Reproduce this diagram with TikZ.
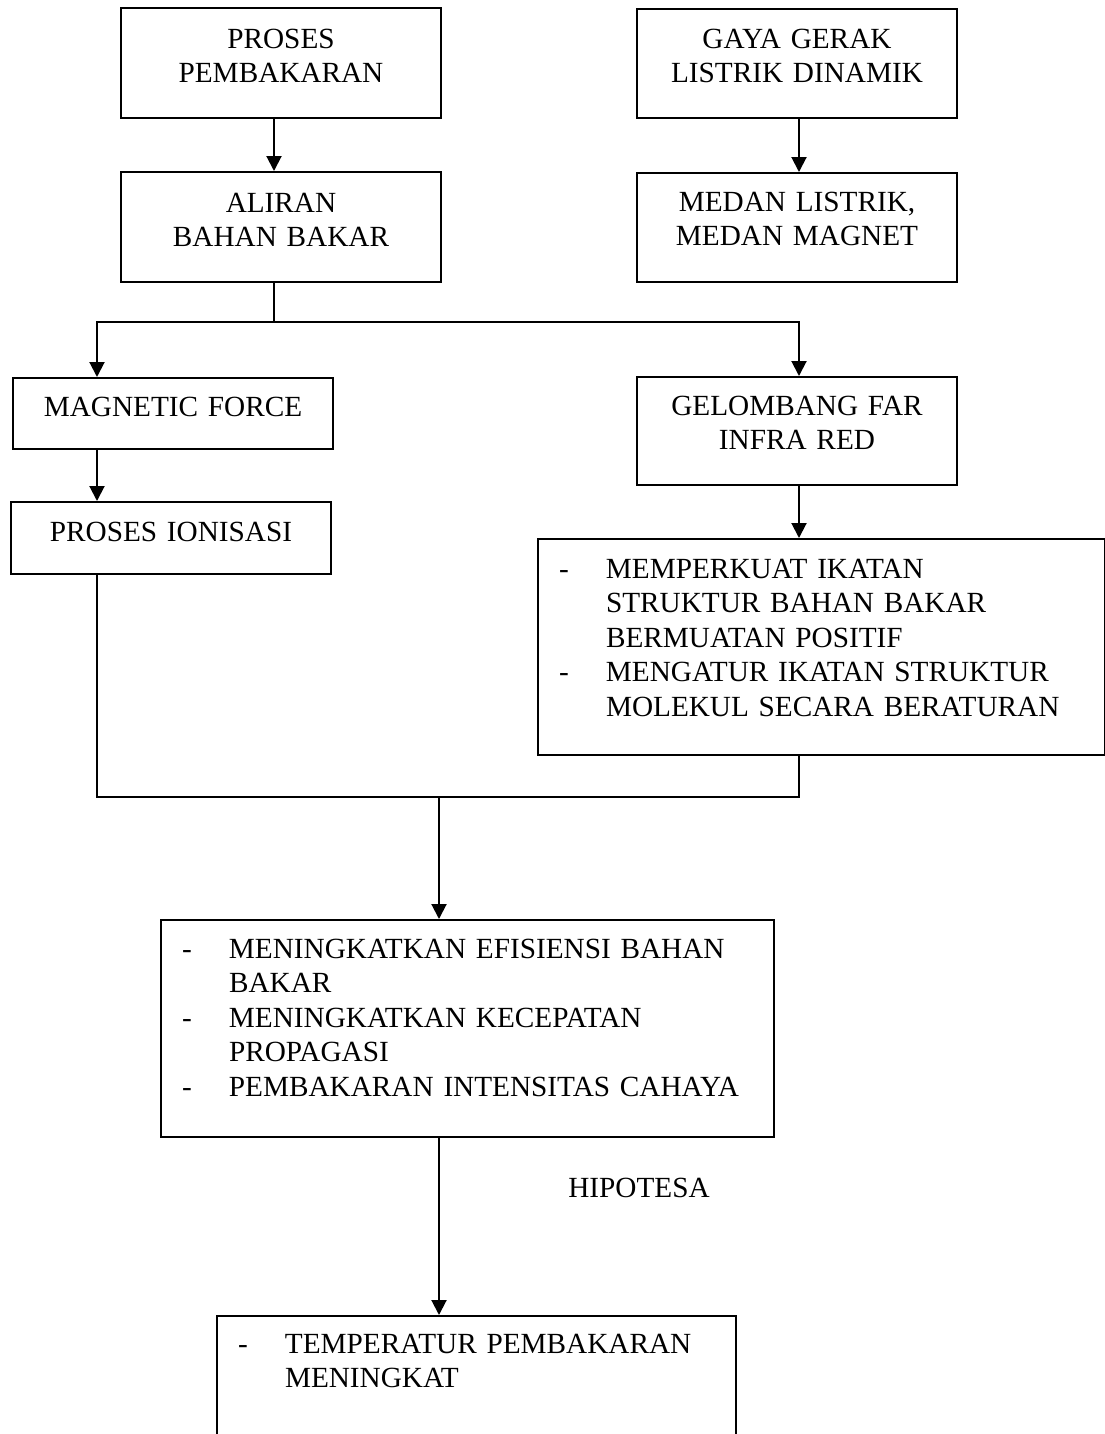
\documentclass[tikz,border=0pt]{standalone}
\usepackage{fontspec}
\setmainfont{Liberation Serif}
\usepackage{tikz}
\usetikzlibrary{arrows.meta}
\newcommand{\boxfont}{\fontsize{11.7}{13.8}\selectfont}

\begin{document}
\begin{tikzpicture}[x=0.4pt,y=-0.4pt,line width=0.8pt,
  kotak/.style={draw,line width=0.8pt,inner sep=0pt,anchor=north west,align=center,font=\boxfont},
  daftar/.style={draw,line width=0.8pt,inner xsep=8.4pt,inner ysep=0pt,anchor=north west,font=\boxfont},
  panah/.style={-{Triangle[width=6pt,length=6pt]}}]
\useasboundingbox (0,0) rectangle (1105,1434);
\clip (0,0) rectangle (1105,1434);

% kotak bagian atas
\node[kotak,text width=128pt,text height=16pt,text depth=28pt] (bakar) at (120,7) {PROSES\\PEMBAKARAN};
\node[kotak,text width=128pt,text height=16pt,text depth=28pt] (aliran) at (120,171) {ALIRAN\\BAHAN BAKAR};
\node[kotak,text width=128pt,text height=15.6pt,text depth=28pt] (gaya) at (636,8) {GAYA GERAK\\LISTRIK DINAMIK};
\node[kotak,text width=128pt,text height=15.2pt,text depth=28.4pt] (medan) at (636,172) {MEDAN LISTRIK,\\MEDAN MAGNET};

% cabang kiri dan kanan
\node[kotak,text width=128pt,text height=15.2pt,text depth=13.2pt] (mf) at (12,377) {MAGNETIC FORCE};
\node[kotak,text width=128pt,text height=15.6pt,text depth=13.2pt] (ion) at (10,501) {PROSES IONISASI};
\node[kotak,text width=128pt,text height=15.2pt,text depth=28pt] (gel) at (636,376) {GELOMBANG FAR\\INFRA RED};
\node[daftar,text width=210pt,text height=15.6pt,text depth=70.8pt] (ciri) at (537,538)
  {\begin{tabular}[t]{@{}p{18.8pt}@{}l@{}}
  - & MEMPERKUAT IKATAN\\
    & STRUKTUR BAHAN BAKAR\\
    & BERMUATAN POSITIF\\
  - & MENGATUR IKATAN STRUKTUR\\
    & MOLEKUL SECARA BERATURAN
  \end{tabular}};

% hasil
\node[daftar,text width=228.4pt,text height=15.2pt,text depth=71.6pt] (efek) at (160,919)
  {\begin{tabular}[t]{@{}p{18.8pt}@{}l@{}}
  - & MENINGKATKAN EFISIENSI BAHAN\\
    & BAKAR\\
  - & MENINGKATKAN KECEPATAN\\
    & PROPAGASI\\
  - & PEMBAKARAN INTENSITAS CAHAYA
  \end{tabular}};
\node[font=\boxfont,anchor=base,inner sep=0pt] (hipo) at (639,1197) {HIPOTESA};
\node[daftar,text width=190.8pt,text height=14.8pt,text depth=60pt] (temp) at (216,1315)
  {\begin{tabular}[t]{@{}p{18.8pt}@{}l@{}}
  - & TEMPERATUR PEMBAKARAN\\
    & MENINGKAT
  \end{tabular}};

% titik bantu garis
\coordinate (xa) at (274,0);
\coordinate (xl) at (97,0);
\coordinate (xr) at (799,0);
\coordinate (xm) at (439,0);
\coordinate (ys) at (0,322);
\coordinate (yj) at (0,797);

\draw[panah] (bakar.south -| xa) -- (aliran.north -| xa);
\draw[panah] (gaya.south -| xr) -- (medan.north -| xr);
\draw[panah] (aliran.south -| xa) |- (xl |- ys) -- (mf.north -| xl);
\draw[panah] (aliran.south -| xa) |- (xr |- ys) -- (gel.north -| xr);
\draw[panah] (mf.south -| xl) -- (ion.north -| xl);
\draw[panah] (gel.south -| xr) -- (ciri.north -| xr);
\draw (ion.south -| xl) |- (xr |- yj) -- (ciri.south -| xr);
\draw[panah] (xm |- yj) -- (efek.north -| xm);
\draw[panah] (efek.south -| xm) -- (temp.north -| xm);
\end{tikzpicture}
\end{document}
